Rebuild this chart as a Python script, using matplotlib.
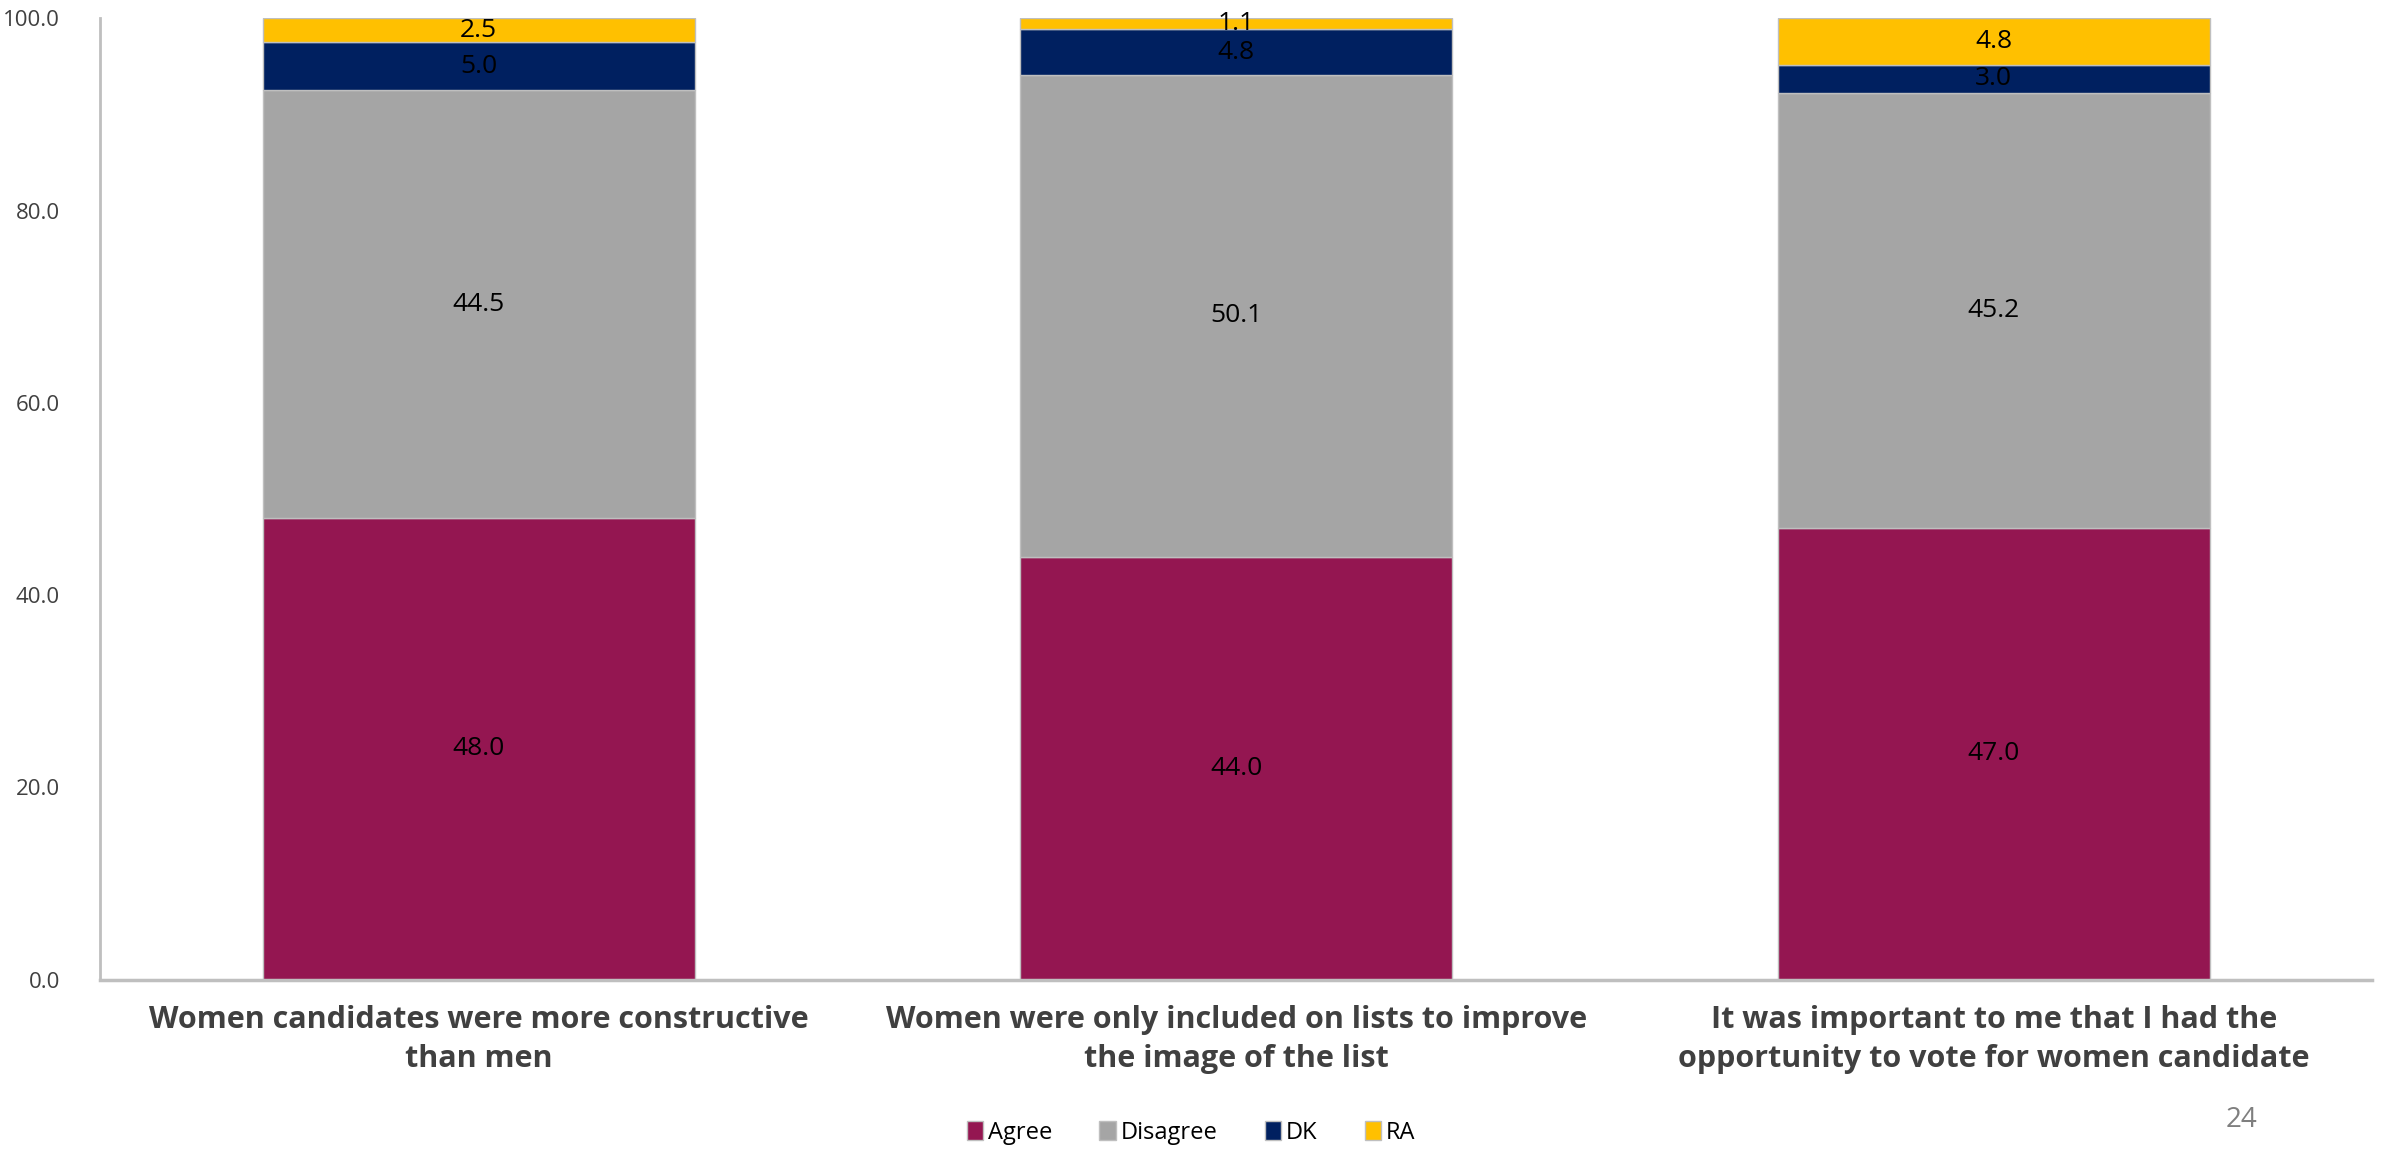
import numpy as np
import matplotlib
matplotlib.use("Agg")
import matplotlib.pyplot as plt
from matplotlib import font_manager

# font: narrow sans if it exists
names = set(f.name for f in font_manager.fontManager.ttflist)
fam = 'Liberation Sans Narrow' if 'Liberation Sans Narrow' in names else 'Open Sans'
plt.rcParams['font.family'] = [fam, 'DejaVu Sans']

categories = ["Women candidates were more constructive\nthan men",
              "Women were only included on lists to improve\nthe image of the list",
              "It was important to me that I had the\nopportunity to vote for women candidate"]
agree = [48.0, 44.0, 47.0]
disagree = [44.5, 50.1, 45.2]
dk = [5.0, 4.8, 3.0]
ra = [2.5, 1.1, 4.8]
series = [("Agree", agree, "#941651"), ("Disagree", disagree, "#A5A5A5"),
          ("DK", dk, "#002060"), ("RA", ra, "#FFC000")]
yticks = [0, 20, 40, 60, 80, 100]

fig = plt.figure(figsize=(23.82, 11.51), dpi=100)
ax = fig.add_axes([0.042, 0.149, 0.954, 0.835])

x = np.arange(len(categories))
bottom = np.zeros(len(categories))
for name, vals, col in series:
    vals = np.array(vals)
    ax.bar(x, vals, 0.57, bottom=bottom, color=col, label=name,
           edgecolor="#BFBFBF", linewidth=1)
    for xi, b, v in zip(x, bottom, vals):
        ax.text(xi, b + v / 2, f"{v:.1f}", ha="center", va="center",
                fontsize=19, color="black")
    bottom += vals

ax.set_xlim(-0.5, 2.5)
ax.set_ylim(0, 100)
ax.set_yticks(yticks)
ax.set_yticklabels([f"{t:.1f}" for t in yticks], fontsize=16, color="#404040")
ax.set_xticks(x)
ax.set_xticklabels(categories, fontsize=22, fontweight="bold", color="#404040",
                   linespacing=1.4)
ax.tick_params(length=0)
ax.tick_params(axis="x", pad=18)
ax.tick_params(axis="y", pad=29)
for s in ["top", "right"]:
    ax.spines[s].set_visible(False)
ax.spines["left"].set_color("#BFBFBF")
ax.spines["bottom"].set_color("#BFBFBF")
ax.spines["left"].set_linewidth(2)
ax.spines["bottom"].set_linewidth(2.5)

leg = fig.legend(loc="center", bbox_to_anchor=(0.5, 0.016), ncol=4, frameon=False,
                 fontsize=17, handlelength=0.7, handleheight=0.9,
                 handletextpad=0.2, columnspacing=2.0)

fig.text(0.941, 0.027, "24", fontsize=20, color="#7F7F7F", ha="center", va="center")

fig.savefig("out.png", dpi=100)
